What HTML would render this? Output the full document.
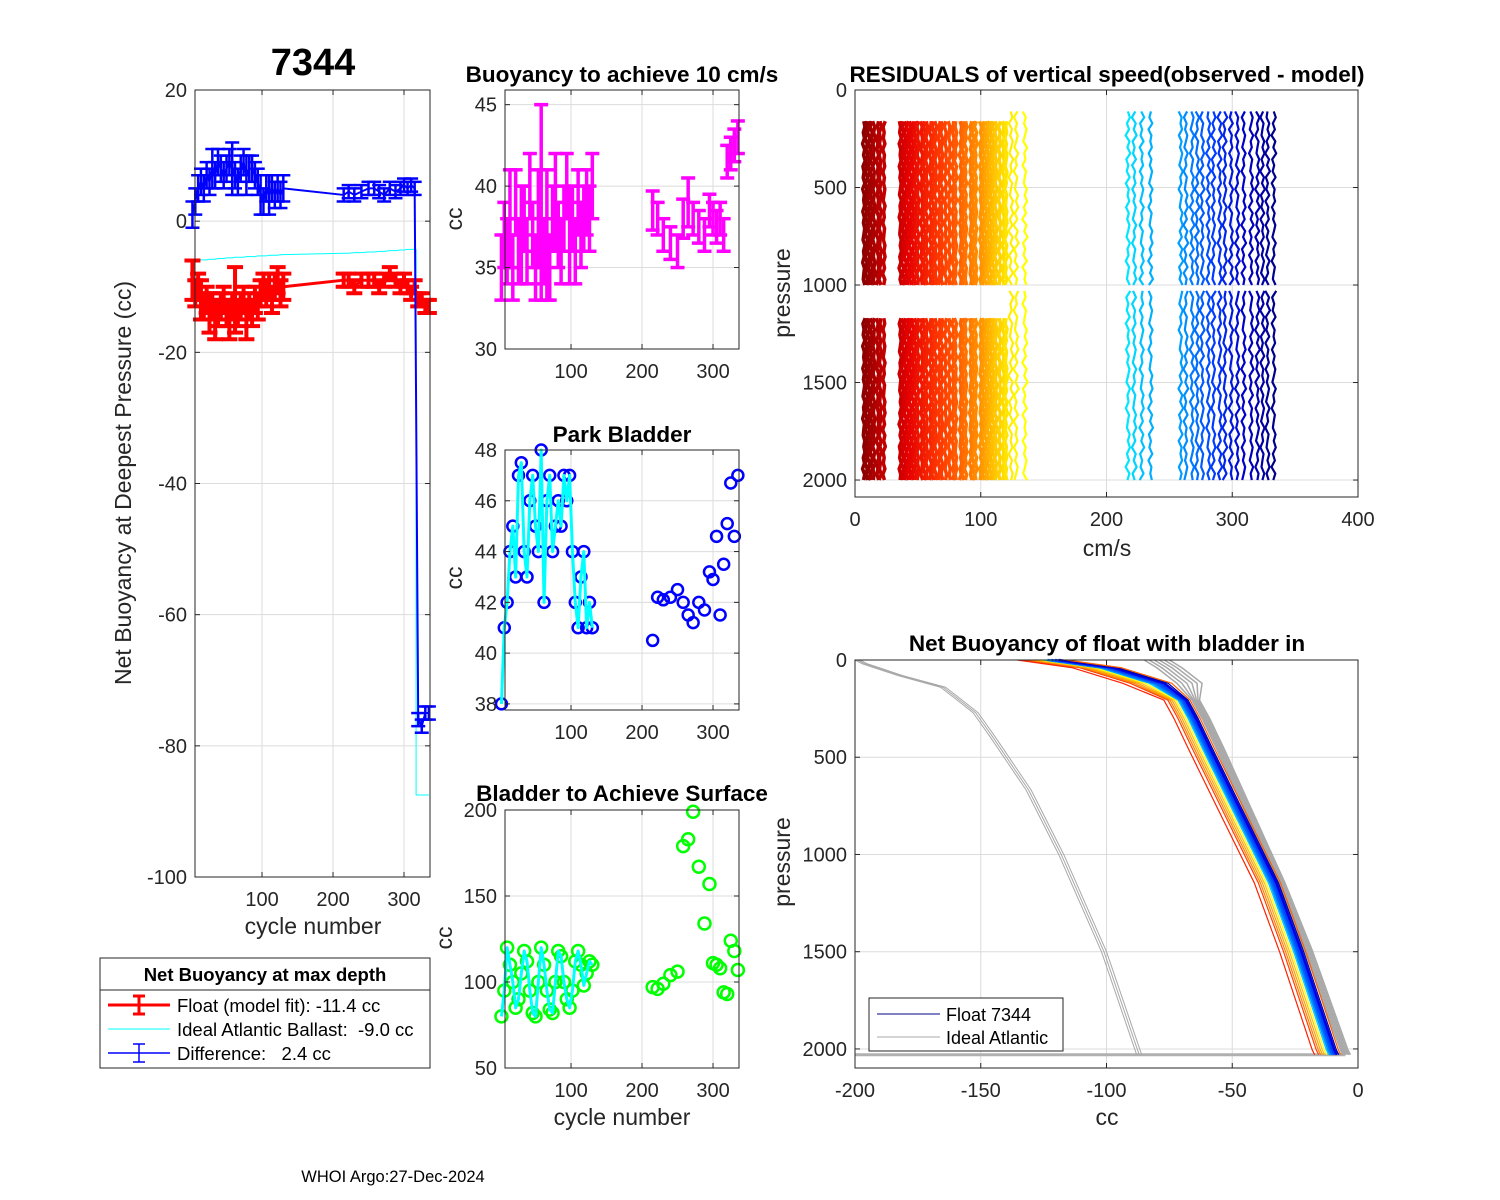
<!DOCTYPE html>
<html><head><meta charset="utf-8"><style>
html,body{margin:0;padding:0;background:#fff}
svg{display:block;font-family:"Liberation Sans",Arial,sans-serif}
text{white-space:pre}
</style></head><body>
<svg id="fig" width="1500" height="1200" viewBox="0 0 1500 1200" xmlns="http://www.w3.org/2000/svg">
<rect width="1500" height="1200" fill="#fff"/>
<g id="layer"></g>
</svg>
<script>
// ---------- data ----------
const cycles1 = [2,6,10,14,18,22,26,30,34,38,42,46,50,54,58,62,66,70,74,78,82,86,90,94,98,102,106,110,114,118,122,126,130];
const cycles2 = [215,222,230,240,250,258,265,272,280,288,295,300,305,310,315,320,325,330,335];
const floatB1 = [-9,-11,-10,-12,-13,-12,-14,-13,-15,-14,-13,-12,-14,-15,-13,-12,-14,-13,-12,-15,-13,-14,-12,-13,-11,-10,-11,-10,-12,-10,-9,-11,-10];
const floatB2 = [-9,-9,-10,-9,-9,-9,-10,-9,-8,-9,-10,-9,-10,-11,-10,-12,-12,-13,-13];
const floatErr1 = [3,2,2,3,2,2,3,2,3,2,2,2,2,3,2,5,2,2,2,3,2,2,2,2,2,2,2,2,2,2,2,2,2];
const floatErr2 = [1,1,1,1,1,1,1,1,1,1,1,1,1,1,1,1,1,1,1];
const diff1 = [1,3,5,6,5,7,6,8,7,9,8,7,8,9,8,7,6,8,9,7,8,8,7,6,4,3,5,4,5,4,5,4,5];
const diff2 = [4,4.5,4,4.5,5,5,4.5,4,5,4.5,5,5.5,5,5.5,5,-76,-77,-75,-75];
const diffErr1 = [2,2,2,2,2,2,2,3,2,2,2,2,2,2,4,2,2,2,2,3,2,2,2,2,3,2,2,3,2,2,2,2,2];
const diffErr2 = [1,1,1,1,1,1,1,1,1,1,1,1,1,1,1,1,1,1,1];
const ideal1 = [-6,-6,-6,-5.9,-5.9,-5.9,-5.8,-5.8,-5.8,-5.7,-5.7,-5.7,-5.6,-5.6,-5.6,-5.5,-5.5,-5.5,-5.5,-5.4,-5.4,-5.4,-5.4,-5.3,-5.3,-5.3,-5.3,-5.2,-5.2,-5.2,-5.2,-5.1,-5.1];
const ideal2 = [-4.9,-4.9,-4.8,-4.8,-4.7,-4.7,-4.6,-4.6,-4.5,-4.5,-4.4,-4.4,-4.3,-4.3,-4.3,-87.5,-87.5,-87.5,-87.5];
const b10_1 = [35,37,36,38,35,39,36,37,38,36,40,37,35,38,39,36,37,35,38,39,37,36,38,40,37,38,36,39,37,38,39,38,40];
const b10_2 = [38.5,38,37,36.5,36,38,39,38,37.5,37,38.5,38,37.5,38,37,41.5,42,42.5,43];
const b10Err1 = [2,2,2,3,2,2,2,3,2,2,2,2,2,3,6,2,4,2,2,3,2,2,2,2,3,2,2,2,2,2,2,2,2];
const b10Err2 = [1.2,1,1,1,1,1.2,1.5,1,1,1,1,1,1,1,1,1,1,1,1];
const park1 = [38,41,42,44,45,43,47,47.5,44,43,46,47,45,44,48,42,46,47,44,45,46,45,47,46,47,44,42,41,43,44,41,42,41];
const park2 = [40.5,42.2,42.1,42.2,42.5,42,41.5,41.2,42,41.7,43.2,42.9,44.6,41.5,43.5,45.1,46.7,44.6,47];
const surf1 = [80,95,120,110,100,85,90,105,118,112,95,82,80,100,120,110,95,84,82,100,118,115,100,90,85,95,112,118,110,98,105,112,110];
const surf2 = [97,96,99,104,106,179,183,199,167,134,157,111,110,108,94,93,124,118,107];
const resRed = [7,9,11,13,15,18,20,23,36,38,40,42,44,46,48,50,53,55,57,60,62,64,67,69,72,75,78,80,84,86,88,92,94,96,100,102,104,106,108,110,112,115,118,120,124,128,135];
const resBlue = [217,222,228,235,259,263,268,272,276,281,285,290,294,299,304,309,315,320,324,328,333];
const wig = [0,0.9,-0.4,0.5,-1.0,0.7,-0.2,1.1,-0.7,0.2,-0.5,0.8,-0.9,0.4,-0.1,0.6,-0.8,0.4,-0.3,0.7,0.1,-0.6,0.9,-0.2,0.3,-0.9,0.5,0.0,-0.4,0.8];
const idealP = [0,20,80,140,200,272,400,668,1000,1500,2030];
const idealCC = [-200,-197,-183,-166,-160,-153,-146,-132,-119,-102,-88];
const floatP = [0,40,120,206,300,463,806,1147,1500,2005,2030];
const floatCC = [-122,-100,-80,-70,-66,-60,-47,-34,-24,-11,-10];
const grayCC = [-85,-80,-72,-66,-62,-56,-44,-32,-21,-7,-6];
const profOff = [-9,-7,-6,-5,-4,-3,-2,-1,0,1,2,3,4];
const grayOff = [0,1,2,3,4,5];

// ---------- helpers ----------
const NS="http://www.w3.org/2000/svg";
const layer=document.getElementById('layer');
function el(tag,attrs,parent){const e=document.createElementNS(NS,tag);for(const k in attrs)e.setAttribute(k,attrs[k]);(parent||layer).appendChild(e);return e;}
function txt(s,x,y,size,opts,parent){const t=el('text',Object.assign({x:x,y:y,'font-size':size,fill:'#000','text-anchor':'middle'},opts||{}),parent);t.textContent=s;return t;}
function axes(name,px0,px1,py0,py1,xmin,xmax,ymin,ymax,xt,yt,rev){
  const g=el('g',{});
  
  
  const sx=v=>px0+(v-xmin)/(xmax-xmin)*(px1-px0);
  const sy=rev?(v=>py0+(v-ymin)/(ymax-ymin)*(py1-py0)):(v=>py1-(v-ymin)/(ymax-ymin)*(py1-py0));
  for(const v of xt){const x=sx(v);el('line',{x1:x,x2:x,y1:py0,y2:py1,stroke:'#dcdcdc','stroke-width':1},g);}
  for(const v of yt){const y=sy(v);el('line',{x1:px0,x2:px1,y1:y,y2:y,stroke:'#dcdcdc','stroke-width':1},g);}
  const data=el('g',{},g);
  
  
  const fr=el('g',{},g);
  el('rect',{x:px0,y:py0,width:px1-px0,height:py1-py0,fill:'none',stroke:'#262626','stroke-width':1},fr);
  for(const v of xt){const x=sx(v);el('line',{x1:x,x2:x,y1:py1,y2:py1-5,stroke:'#262626'},fr);el('line',{x1:x,x2:x,y1:py0,y2:py0+5,stroke:'#262626'},fr);
    const t=txt(String(v),x,py1+29,20,{fill:'#262626'},fr);}
  for(const v of yt){const y=sy(v);el('line',{x1:px0,x2:px0+5,y1:y,y2:y,stroke:'#262626'},fr);el('line',{x1:px1,x2:px1-5,y1:y,y2:y,stroke:'#262626'},fr);
    const t=txt(String(v),px0-8,y+7,20,{fill:'#262626','text-anchor':'end'},fr);}
  return {sx,sy,data,fr};
}
function errbar(g,x,y1,y2,col,w,cap){el('line',{x1:x,x2:x,y1:y1,y2:y2,stroke:col,'stroke-width':w},g);
  el('line',{x1:x-cap,x2:x+cap,y1:y1,y2:y1,stroke:col,'stroke-width':w},g);el('line',{x1:x-cap,x2:x+cap,y1:y2,y2:y2,stroke:col,'stroke-width':w},g);}
function poly(g,pts,col,w){return el('polyline',{points:pts.map(p=>p.join(',')).join(' '),fill:'none',stroke:col,'stroke-width':w,'stroke-linejoin':'round'},g);}
const cyc=cycles1.concat(cycles2);

// ---------- panel 1 ----------
{
const A=axes('net-buoyancy-panel',195,430,90,877,5.6,336.6,-100,20,[100,200,300],[-100,-80,-60,-40,-20,0,20]);
const fb=floatB1.concat(floatB2), fe=floatErr1.concat(floatErr2);
const df=diff1.concat(diff2), de=diffErr1.concat(diffErr2);
const id=ideal1.concat(ideal2);
const idPts=[];cyc.forEach((c,i)=>{if(i>0&&id[i]<-50&&id[i-1]>-50)idPts.push([A.sx(c-3),A.sy(id[i-1])],[A.sx(c-3),A.sy(id[i])]);idPts.push([A.sx(c),A.sy(id[i])]);});
const ln=poly(A.data,idPts,'#00ffff',1);
const rg=el('g',{},A.data);
poly(rg,cyc.map((c,i)=>[A.sx(c),A.sy(fb[i])]),'#ff0000',3);
cyc.forEach((c,i)=>errbar(rg,A.sx(c),A.sy(fb[i]-fe[i]),A.sy(fb[i]+fe[i]),'#ff0000',4,8));
const bg=el('g',{},A.data);
poly(bg,cyc.map((c,i)=>[A.sx(c),A.sy(df[i])]),'#0000ff',2);
cyc.forEach((c,i)=>errbar(bg,A.sx(c),A.sy(df[i]-de[i]),A.sy(df[i]+de[i]),'#0000ff',2.5,7));
}
// ---------- panel 2 ----------
{
const A=axes('buoyancy-10cms-panel',505,739,90,349,7,336.6,30,45.9,[100,200,300],[30,35,40,45]);
const v=b10_1.concat(b10_2), e=b10Err1.concat(b10Err2);
cyc.forEach((c,i)=>errbar(A.data,A.sx(c),A.sy(v[i]-e[i]),A.sy(v[i]+e[i]),'#ff00ff',3.5,7));
}
// ---------- panel 3 ----------
{
const A=axes('park-bladder-panel',505,739,450,710,7,336.6,37.76,48,[100,200,300],[38,40,42,44,46,48]);
const v=park1.concat(park2);
cyc.forEach((c,i)=>{const m=el('circle',{cx:A.sx(c),cy:A.sy(v[i]),r:5.5,fill:'none',stroke:'#0000ff','stroke-width':2.5},A.data);});
poly(A.data,cycles1.map((c,i)=>[A.sx(c),A.sy(park1[i])]),'#00ffff',3);
}
// ---------- panel 4 ----------
{
const A=axes('surface-bladder-panel',505,739,810,1068,7,336.6,50,200,[100,200,300],[50,100,150,200]);
const v=surf1.concat(surf2);
cyc.forEach((c,i)=>{const m=el('circle',{cx:A.sx(c),cy:A.sy(v[i]),r:6,fill:'none',stroke:'#00ff00','stroke-width':2.5},A.data);});
poly(A.data,cycles1.map((c,i)=>[A.sx(c),A.sy(surf1[i])]),'#00ffff',3);
}
// ---------- panel 5 ----------
{
const A=axes('residuals-panel',855,1358,90,497,0,400,0,2087,[0,100,200,300,400],[0,500,1000,1500,2000],true);
function lerp(a,b,t){return a.map((v,i)=>Math.round(v+(b[i]-v)*t));}
function hot(t){const s=[[139,0,0],[230,0,0],[255,60,0],[255,150,0],[255,255,0]];const k=Math.min(3,Math.floor(t*4));return 'rgb('+lerp(s[k],s[k+1],t*4-k).join(',')+')';}
function cool(t){const s=[[0,230,255],[0,140,255],[0,60,255],[0,0,200],[0,0,140]];const k=Math.min(3,Math.floor(t*4));return 'rgb('+lerp(s[k],s[k+1],t*4-k).join(',')+')';}
function prof(x,col,p0,p1,p2,p3,k,w,amp){
  [[p0,p1],[p2,p3]].forEach(([a,b],s)=>{const pts=wig.map((wv,j)=>[A.sx(x+amp*wig[(j+k+s*7)%wig.length]),A.sy(a+(b-a)*j/(wig.length-1))]);
    const l=poly(A.data,pts,col,w);});
}
resRed.forEach((x,i)=>{const late=x>123;prof(x,hot(i/(resRed.length-1)),late?110:160,1000,late?1030:1170,2000,i,late?2.2:3.5,late?2:1);});
resBlue.forEach((x,i)=>prof(x,cool(i/(resBlue.length-1)),110,1000,1030,2000,i*3,2.2,1.8));
}
// ---------- panel 6 ----------
{
const A=axes('net-buoyancy-profile-panel',855,1358,660,1068,-200,0,0,2098,[-200,-150,-100,-50,0],[0,500,1000,1500,2000],true);
const h=el('line',{x1:A.sx(-200),x2:A.sx(-5),y1:A.sy(2030),y2:A.sy(2030),stroke:'#b0b0b0','stroke-width':3},A.data);
[0,1,2].forEach(o=>{const l=poly(A.data,idealP.map((p,i)=>[A.sx(idealCC[i]+o),A.sy(p)]),'#a8a8a8',1);});
grayOff.forEach(o=>{const l=poly(A.data,floatP.map((p,i)=>[A.sx(grayCC[i]+o*(i<3?2:0.6)),A.sy(p)]),'#a8a8a8',1.5);});
const cols=['#ff2000','#ff4000','#ff8000','#ffa000','#ffc000','#ffff00','#00c8ff','#0090ff','#0060ff','#0040ff','#0000e0','#0000a0','#ff6000'];
profOff.forEach((o,k)=>{const l=poly(A.data,floatP.map((p,i)=>[A.sx(floatCC[i]+o*(i<3?1.5:0.8)),A.sy(p)]),cols[k],k>6&&k<11?2.5:1.2);});
const lg=el('g',{});
el('rect',{x:869,y:998,width:194,height:53,fill:'#fff',stroke:'#262626'},lg);
el('line',{x1:877,x2:940,y1:1014,y2:1014,stroke:'#00008b','stroke-width':1},lg);
el('line',{x1:877,x2:940,y1:1037,y2:1037,stroke:'#a8a8a8','stroke-width':1},lg);
txt('Float 7344',946,1021,18,{'text-anchor':'start'},lg);
txt('Ideal Atlantic',946,1044,18,{'text-anchor':'start'},lg);
}
// ---------- titles & labels ----------
const labels=[
 ['7344',313,75,38,{'font-weight':'bold'},'main-title'],
 ['Buoyancy to achieve 10 cm/s',622,82,22.5,{'font-weight':'bold'},'buoyancy-title'],
 ['Park Bladder',622,442,22.5,{'font-weight':'bold'},'park-title'],
 ['Bladder to Achieve Surface',622,801,22.5,{'font-weight':'bold'},'surface-title'],
 ['RESIDUALS of vertical speed(observed - model)',1107,82,22.5,{'font-weight':'bold'},'residuals-title'],
 ['Net Buoyancy of float with bladder in',1107,651,22.5,{'font-weight':'bold'},'profile-title'],
 ['cycle number',313,934,23,{fill:'#262626'},'x-axis-title'],
 ['cycle number',622,1125,23,{fill:'#262626'},'x-axis-title'],
 ['cm/s',1107,556,23,{fill:'#262626'},'x-axis-title'],
 ['cc',1107,1125,23,{fill:'#262626'},'x-axis-title'],
 ['WHOI Argo:27-Dec-2024',393,1182,16.5,{},'footer-text']
];
labels.forEach(l=>{const t=txt(l[0],l[1],l[2],l[3],l[4]);});
const ylabs=[['Net Buoyancy at Deepest Pressure (cc)',131,483],['cc',462,219],['cc',462,578],['cc',452,938],['pressure',790,293],['pressure',790,862]];
ylabs.forEach(l=>{const t=txt(l[0],l[1],l[2],23,{fill:'#262626',transform:'rotate(-90 '+l[1]+' '+l[2]+')'});});
// ---------- left legend ----------
{
const lg=el('g',{});
el('rect',{x:100,y:958,width:330,height:110,fill:'#fff',stroke:'#262626'},lg);
el('line',{x1:100,x2:430,y1:990,y2:990,stroke:'#262626'},lg);
txt('Net Buoyancy at max depth',265,981,18.5,{'font-weight':'bold'},lg);
el('line',{x1:108,x2:170,y1:1005,y2:1005,stroke:'#ff0000','stroke-width':3},lg);
errbar(lg,139,996,1014,'#ff0000',3,6);
el('line',{x1:108,x2:170,y1:1029,y2:1029,stroke:'#00ffff','stroke-width':1},lg);
el('line',{x1:108,x2:170,y1:1053,y2:1053,stroke:'#0000ff','stroke-width':1.5},lg);
errbar(lg,139,1044,1062,'#0000ff',1.5,6);
txt('Float (model fit): -11.4 cc',177,1012,18.5,{'text-anchor':'start'},lg);
txt('Ideal Atlantic Ballast:  -9.0 cc',177,1036,18.5,{'text-anchor':'start'},lg);
txt('Difference:   2.4 cc',177,1060,18.5,{'text-anchor':'start'},lg);
}
</script>
</body></html>
